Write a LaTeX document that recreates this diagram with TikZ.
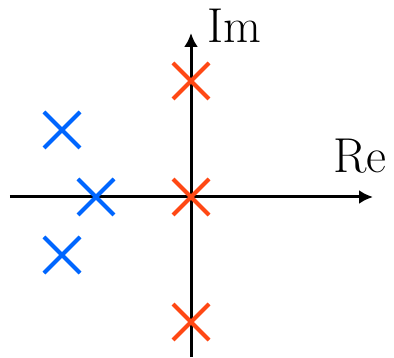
\documentclass[tikz,border=0pt]{standalone}
\usetikzlibrary{arrows.meta,shapes.misc}
\definecolor{poleblue}{RGB}{0,102,255}
\definecolor{polered}{RGB}{255,72,20}
\tikzset{every node/.style={font=\fontsize{24.5}{29}\selectfont},line cap=butt,line join=miter,
  axis/.style={line width=1.5pt,-{Latex[length=7pt,width=7pt]}},
  pole/.style={cross out,draw,line width=2pt,minimum size=18pt,inner sep=0pt,outer sep=0pt}}

\begin{document}
\begin{tikzpicture}[x=0.5pt,y=0.5pt]
  \path[use as bounding box] (-191,-160) rectangle (203,197);
  % axes of the complex plane
  \coordinate (origin) at (0,0);
  \coordinate (reL) at (-181,0);
  \coordinate (reR) at (182,0);
  \coordinate (imB) at (0,-160);
  \coordinate (imT) at (0,164);
  \draw[axis] (reL) -- (reR);
  \draw[axis] (imB) -- (imT);
  \node[anchor=base west,inner sep=0pt] (imlabel) at (16,154) {Im};
  \node[anchor=base west,inner sep=0pt] (relabel) at (142,24) {Re};

  % poles
  \node[pole,draw=polered] (r1) at (0,116) {};
  \node[pole,draw=polered] (r2) at (origin) {};
  \node[pole,draw=polered] (r3) at (0,-125) {};
  \node[pole,draw=poleblue] (b1) at (-129,67) {};
  \node[pole,draw=poleblue] (b2) at (-95,0) {};
  \node[pole,draw=poleblue] (b3) at (-129,-58) {};
\end{tikzpicture}
\end{document}
